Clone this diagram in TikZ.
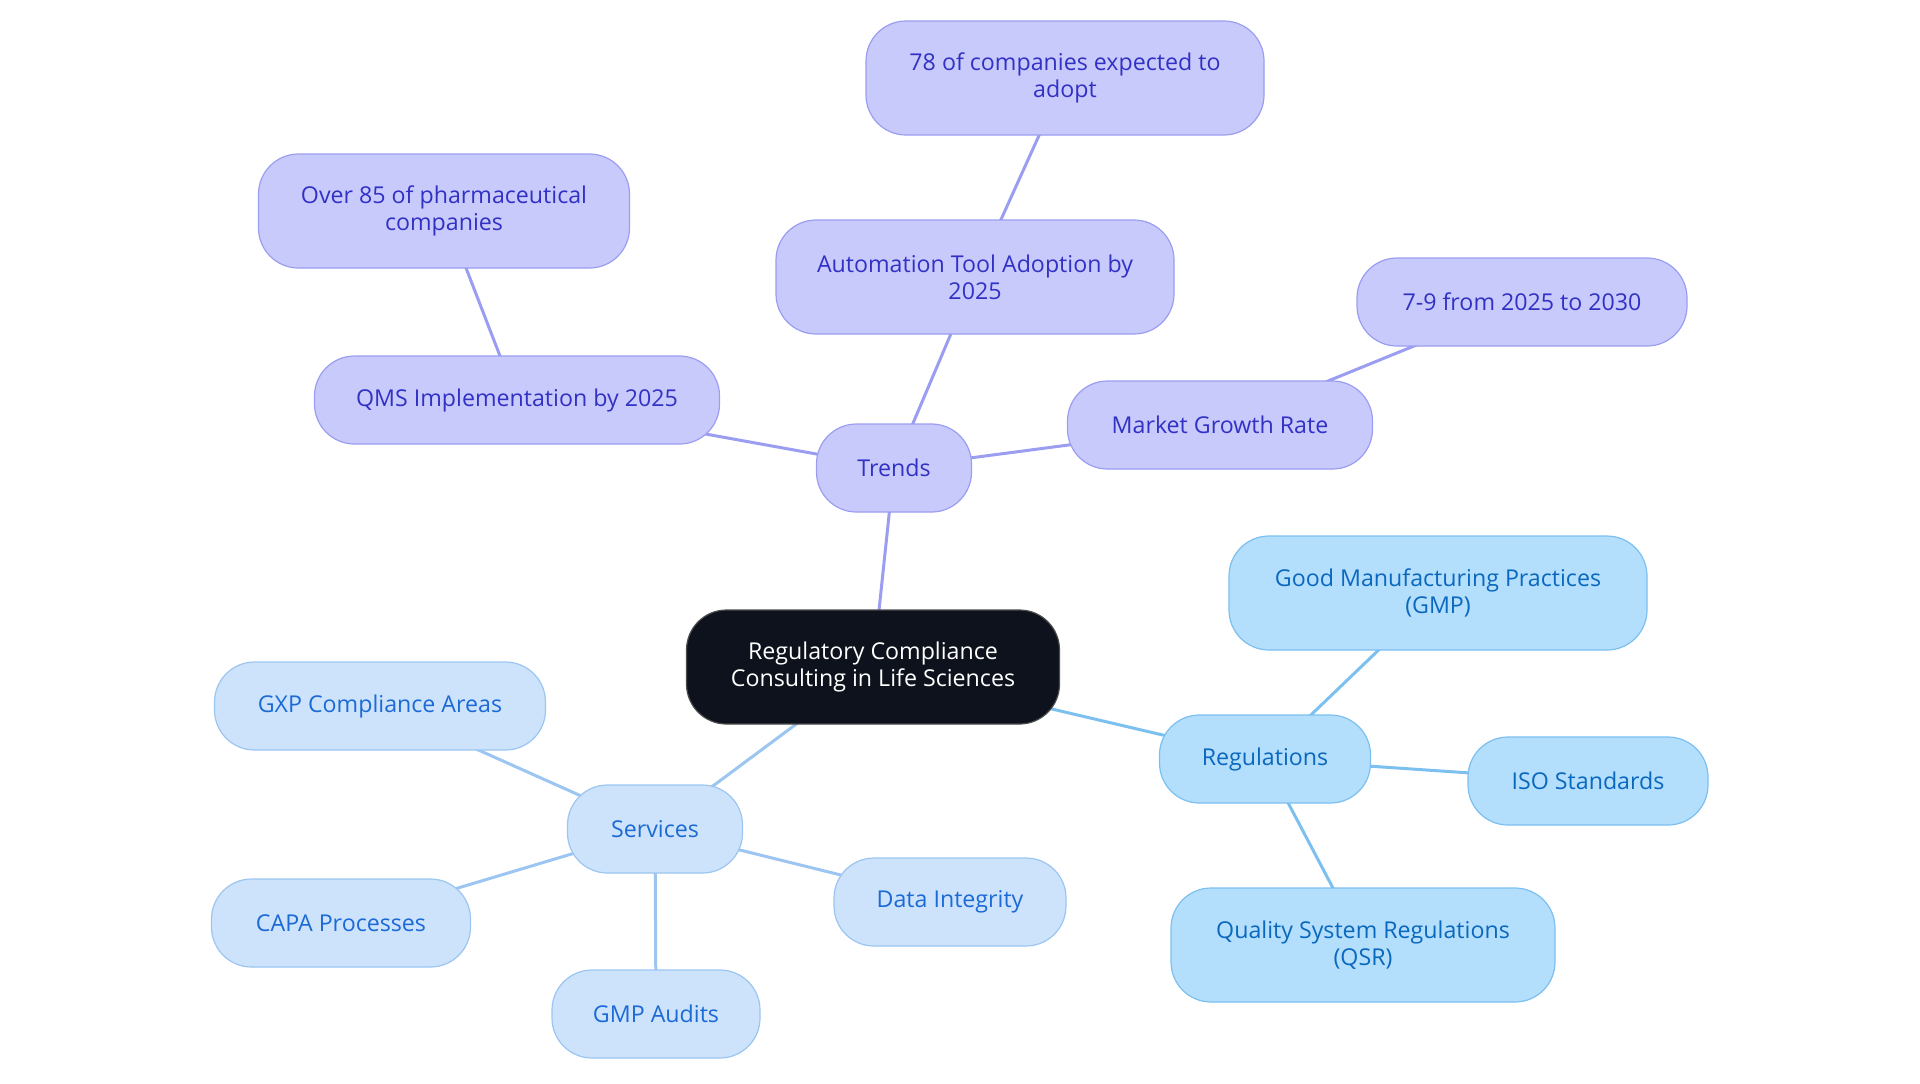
\documentclass[tikz,border=0pt]{standalone}
\usepackage{fontspec}
\setmainfont{Open Sans}
\usetikzlibrary{positioning,backgrounds}
\definecolor{trendfill}{HTML}{C9CAFC}
\definecolor{trenddraw}{HTML}{9A9DF0}
\definecolor{trendtext}{HTML}{3131C4}
\definecolor{regfill}{HTML}{B3DEFC}
\definecolor{regdraw}{HTML}{7CC0F0}
\definecolor{regtext}{HTML}{0A68BE}
\definecolor{servfill}{HTML}{CCE3FB}
\definecolor{servdraw}{HTML}{9CC5F1}
\definecolor{servtext}{HTML}{1C6AD6}
\definecolor{rootfill}{HTML}{0D121C}
\tikzset{
  box/.style={rounded corners=20pt, line width=0.6pt, align=center, font=\fontsize{11.6}{13.5}\selectfont, minimum height=44pt, inner xsep=18pt},
  tall/.style={minimum height=57pt},
  trend/.style={box, fill=trendfill, draw=trenddraw, text=trendtext},
  reg/.style={box, fill=regfill, draw=regdraw, text=regtext},
  serv/.style={box, fill=servfill, draw=servdraw, text=servtext},
  trendline/.style={draw=trenddraw, line width=1.5pt},
  regline/.style={draw=regdraw, line width=1.5pt},
  servline/.style={draw=servdraw, line width=1.5pt}
}
\begin{document}
\begin{tikzpicture}[x=0.5pt,y=-0.5pt]
		\useasboundingbox (0,0) rectangle (1920,1083);
		\node (root) [box, tall, minimum width=186.5pt, fill=rootfill, draw=black!70, text=white] at (873,667) {Regulatory Compliance\\Consulting in Life Sciences};

		\node (trends) [trend, minimum width=77.5pt] at (894,468) {Trends};
		\node (auto) [trend, tall, minimum width=199pt] at (975,277) {Automation Tool Adoption by\\2025};
		\node (adopt) [trend, tall, minimum width=199pt] at (1065,78) {78 of companies expected to\\adopt};
		\node (qms) [trend, minimum width=202.5pt] at (517,400) {QMS Implementation by 2025};
		\node (pharma) [trend, tall, minimum width=185.5pt] at (444,211) {Over 85 of pharmaceutical\\companies};
		\node (growth) [trend, minimum width=152.5pt] at (1220,425) {Market Growth Rate};
		\node (rate) [trend, minimum width=165pt] at (1522,302) {7-9 from 2025 to 2030};

		\node (regs) [reg, minimum width=105.5pt] at (1265,759) {Regulations};
		\node (gmp) [reg, tall, minimum width=209pt] at (1438,593) {Good Manufacturing Practices\\(GMP)};
		\node (iso) [reg, minimum width=120pt] at (1588,781) {ISO Standards};
		\node (qsr) [reg, tall, minimum width=192pt] at (1363,945) {Quality System Regulations\\(QSR)};

		\node (serv) [serv, minimum width=87.5pt] at (655,829) {Services};
		\node (gxp) [serv, minimum width=165.5pt] at (380,706) {GXP Compliance Areas};
		\node (capa) [serv, minimum width=129.5pt] at (341,923) {CAPA Processes};
		\node (audit) [serv, minimum width=104pt] at (656,1014) {GMP Audits};
		\node (data) [serv, minimum width=116pt] at (950,902) {Data Integrity};

		% links sit behind the boxes
		\begin{scope}[on background layer]
		\draw[trendline] (root.center) -- (trends.center);
		\draw[trendline] (trends.center) -- (auto.center);
		\draw[trendline] (auto.center) -- (adopt.center);
		\draw[trendline] (trends.center) -- (qms.center);
		\draw[trendline] (qms.center) -- (pharma.center);
		\draw[trendline] (trends.center) -- (growth.center);
		\draw[trendline] (growth.center) -- (rate.center);
		\draw[regline] (root.center) -- (regs.center);
		\draw[regline] (regs.center) -- (gmp.center);
		\draw[regline] (regs.center) -- (iso.center);
		\draw[regline] (regs.center) -- (qsr.center);
		\draw[servline] (root.center) -- (serv.center);
		\draw[servline] (serv.center) -- (gxp.center);
		\draw[servline] (serv.center) -- (capa.center);
		\draw[servline] (serv.center) -- (audit.center);
		\draw[servline] (serv.center) -- (data.center);
		\end{scope}
	\end{tikzpicture}
\end{document}
